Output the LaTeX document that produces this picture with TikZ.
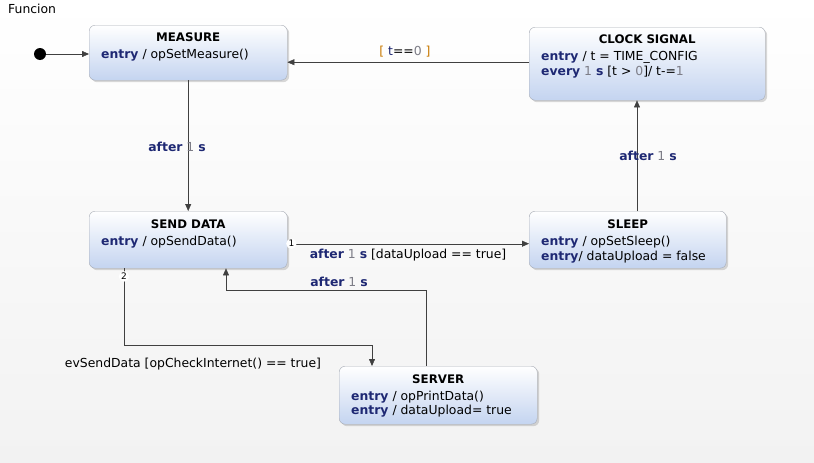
\documentclass[tikz,border=0pt]{standalone}
\usepackage{fontspec}
\setmainfont{DejaVu Sans}
\usetikzlibrary{arrows.meta,shadows}
\definecolor{kwblue}{RGB}{30,40,115}
\definecolor{numgray}{RGB}{125,125,135}
\definecolor{brorange}{RGB}{200,120,0}
\definecolor{stblue}{RGB}{196,212,240}
\definecolor{stborder}{RGB}{165,170,180}
\definecolor{wire}{RGB}{64,64,64}
\definecolor{bggray}{RGB}{242,242,242}
\newcommand{\kw}[1]{\textcolor{kwblue}{\textbf{#1}}}
\newcommand{\nmb}[1]{\textcolor{numgray}{#1}}

\begin{document}
\begin{tikzpicture}[x=1pt, y=-1pt, font=\fontsize{12.4}{15}\selectfont,
    state/.style={draw=stborder, rounded corners=6pt, top color=white, bottom color=stblue,
        anchor=north west, inner sep=0pt,
        drop shadow={shadow xshift=2pt, shadow yshift=-2pt, opacity=0.3}},
    title/.style={anchor=base, inner sep=0pt, font=\fontsize{11.8}{14}\selectfont\bfseries},
    body/.style={anchor=base west, inner sep=0pt},
    conn/.style={draw=wire, -{Triangle[width=6pt,length=7pt]}},
    lbl/.style={inner sep=1pt},
    prio/.style={circle, fill=white, inner sep=0.6pt, font=\fontsize{9}{10}\selectfont}]
\useasboundingbox (0,0) rectangle (814,463);
\fill[top color=white, bottom color=bggray] (0,0) rectangle (814,463);
\node[anchor=west, inner sep=0pt] (frameT) at (8,9) {Funcion};

% States
\node[state, minimum width=198pt, minimum height=55pt] (measure) at (89,25) {};
\node[title] (measureT) at ([yshift=-16.5pt]measure.north) {MEASURE};
\node[body] (measureE) at ([xshift=12pt,yshift=-33.5pt]measure.north west) {\kw{entry} / opSetMeasure()};

\node[state, minimum width=236pt, minimum height=73pt] (clock) at (529,27) {};
\node[title] (clockT) at ([yshift=-16.5pt]clock.north) {CLOCK SIGNAL};
\node[body] (clockE1) at ([xshift=12pt,yshift=-33.5pt]clock.north west) {\kw{entry} / t = TIME\_CONFIG};
\node[body] (clockE2) at ([yshift=-15pt]clockE1.base west) {\kw{every} \nmb{1} \kw{s} [t > \nmb{0}]/ t-=\nmb{1}};

\node[state, minimum width=198pt, minimum height=57pt] (send) at (89,211) {};
\node[title] (sendT) at ([yshift=-17pt]send.north) {SEND DATA};
\node[body] (sendE) at ([xshift=12pt,yshift=-34.5pt]send.north west) {\kw{entry} / opSendData()};

\node[state, minimum width=197pt, minimum height=57pt] (sleep) at (529,211) {};
\node[title] (sleepT) at ([yshift=-17pt]sleep.north) {SLEEP};
\node[body] (sleepE1) at ([xshift=12pt,yshift=-34.5pt]sleep.north west) {\kw{entry} / opSetSleep()};
\node[body] (sleepE2) at ([yshift=-15pt]sleepE1.base west) {\kw{entry}/ dataUpload = false};

\node[state, minimum width=198pt, minimum height=58pt] (server) at (339,366) {};
\node[title] (serverT) at ([yshift=-17pt]server.north) {SERVER};
\node[body] (serverE1) at ([xshift=12pt,yshift=-34.5pt]server.north west) {\kw{entry} / opPrintData()};
\node[body] (serverE2) at ([yshift=-14pt]serverE1.base west) {\kw{entry} / dataUpload= true};

% Initial state
\node[circle, fill=black, minimum size=12pt, inner sep=0pt] (init) at (40,54) {};

% Transitions
\draw[conn] (init) -- (init -| measure.west);
\draw[conn] ([yshift=1.5pt]clock.west) -- ([yshift=1.5pt]clock.west -| measure.east);
\draw[conn] (measure.south) -- (send.north);
\draw[conn] ([xshift=108pt]sleep.north west) -- ([xshift=108pt]clock.south west);
\draw[conn] ([yshift=-4pt]send.east) -- ([yshift=-4pt]sleep.west);
\draw[conn] ([xshift=35pt]send.south west) -- ++(0,77) -| ([xshift=33pt]server.north west);
\draw[conn] ([xshift=87pt]server.north west) -- ++(0,-76) -| ([xshift=137pt]send.south west);
\node[prio] (prio1) at ([xshift=4pt,yshift=-4pt]send.east) {1};
\node[prio] (prio2) at ([xshift=35pt,yshift=-8pt]send.south west) {2};

% Labels
\node[lbl] (lblZero) at (405,52) {\textcolor{brorange}{[} \textcolor{kwblue}{t}==\nmb{0} \textcolor{brorange}{]}};
\node[lbl] (lblMeasure) at (177,147) {\kw{after} \nmb{1} \kw{s}};
\node[lbl] (lblSleep) at (648,156) {\kw{after} \nmb{1} \kw{s}};
\node[lbl] (lblUpload) at (408,255) {\kw{after} \nmb{1} \kw{s} [dataUpload == true]};
\node[lbl] (lblServer) at (339,282) {\kw{after} \nmb{1} \kw{s}};
\node[lbl] (lblCheck) at (193,364) {evSendData [opCheckInternet() == true]};
\end{tikzpicture}
\end{document}
